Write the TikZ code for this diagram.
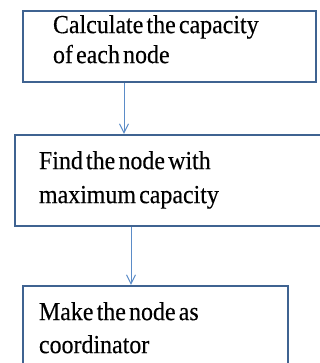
\documentclass[tikz,border=0pt]{standalone}
\usepackage{fontspec}
\setmainfont{Liberation Serif}
\newfontfamily\stepfont[FakeStretch=0.92,FakeBold=0.3]{Liberation Serif}
\newcommand\tightspace{\spaceskip=3.2pt plus 1pt\xspaceskip=3.2pt plus 1pt\relax}
\usetikzlibrary{arrows.meta, positioning, calc}
\definecolor{boxblue}{HTML}{3F6391}
\definecolor{flowblue}{HTML}{5B8CC8}

\begin{document}
\begin{tikzpicture}[x=1pt,y=-1pt,
  stepbox/.style={draw=boxblue,line width=2.2pt,align=left,font=\stepfont\fontsize{26}{34}\selectfont},
  flow/.style={draw=flowblue,line width=1pt,-{Straight Barb[length=9pt,width=9pt]}}]
\useasboundingbox (0,0) rectangle (320,363);
\clip (0,0) rectangle (320,363);
% Steps of the flow chart
\node[stepbox,font=\stepfont\fontsize{26}{30}\selectfont,minimum height=71pt,inner xsep=30pt,text width=233pt,text depth=44.8pt](fc_1) at (169.5,46.5){\tightspace Calculate the capacity\\of each node};
\node[stepbox,minimum height=91pt,inner xsep=24pt,text width=272pt,text depth=40.8pt](fc_2) at (175,180.5){\tightspace Find the node with\\maximum capacity};
\node[stepbox,font=\stepfont\fontsize{26}{33}\selectfont,minimum height=91pt,inner xsep=16pt,text width=233pt,text depth=40.8pt](fc_3) at (155.5,331.5){\tightspace Make the node as\\coordinator};
% Arrows between steps
\draw[flow] ([xshift=-45.5pt]fc_1.south) -- ([xshift=-45.5pt]fc_1.south |- fc_2.north);
\draw[flow] ([xshift=-44pt]fc_2.south) -- ([xshift=-44pt]fc_2.south |- fc_3.north);
\end{tikzpicture}
\end{document}
